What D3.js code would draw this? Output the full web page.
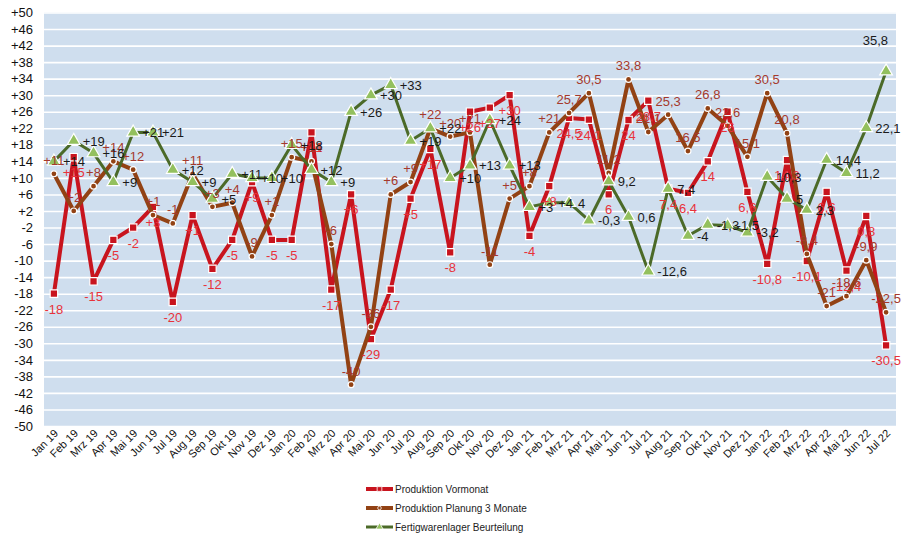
<!DOCTYPE html>
<html>
<head>
<meta charset="utf-8">
<script src="https://cdnjs.cloudflare.com/ajax/libs/d3/7.8.5/d3.min.js"></script>
<style>
    body { margin: 0; background: #ffffff; }
    svg { font-family: "Liberation Sans", Arial, sans-serif; }
</style>
</head>
<body>
<svg id="chart"></svg>
<script>
// months Jan 19 .. Jul 22
var months = ["Jan 19", "Feb 19", "Mrz 19", "Apr 19", "Mai 19", "Jun 19", "Jul 19", "Aug 19", "Sep 19", "Okt 19", "Nov 19", "Dez 19",
    "Jan 20", "Feb 20", "Mrz 20", "Apr 20", "Mai 20", "Jun 20", "Jul 20", "Aug 20", "Sep 20", "Okt 20", "Nov 20", "Dez 20",
    "Jan 21", "Feb 21", "Mrz 21", "Apr 21", "Mai 21", "Jun 21", "Jul 21", "Aug 21", "Sep 21", "Okt 21", "Nov 21", "Dez 21",
    "Jan 22", "Feb 22", "Mrz 22", "Apr 22", "Mai 22", "Jun 22", "Jul 22"];

var vormonat = [-18, 15, -15, -5, -2, 3, -20, 1, -12, -5, 9, -5,
    -5, 21, -17, 6, -29, -17, 5, 17, -8, 26, 27, 30,
    -4, 8, 24.5, 24.1, 6, 24, 28.7, 7.4, 6.4, 14, 26, 6.6,
    -10.8, 14.3, -10.1, 6.6, -12.4, 0.8, -30.5];

var planung = [11, 2, 8, 14, 12, 1, -1, 11, 3, 4, -9, 1,
    15, 14, -6, -40, -26, 6, 9, 22, 20, 21, -11, 5,
    8, 21, 25.7, 30.5, 11.2, 33.8, 21.1, 25.3, 16.5, 26.8, 22.6, 15.1,
    30.5, 20.8, -8.4, -21, -18.6, -9.9, -22.5];

var lager = [14, 19, 16, 9, 21, 21, 12, 9, 5, 11, 10, 10,
    18, 12, 9, 26, 30, 32.5, 19, 22, 10, 13, 24, 13,
    3, 4, 4, -0.3, 9.2, 0.6, -12.6, 7.4, -4, -1.3, -1.5, -3.2,
    10.3, 5, 2.3, 14.4, 11.2, 22.1, 35.8];

var seriesNames = ["Produktion Vormonat", "Produktion Planung 3 Monate", "Fertigwarenlager Beurteilung"];
var yTicks = d3.range(50, -51, -4);

var dimensions = {
    width: 908,
    height: 534,
    margin: { top: 12.5, bottom: 108, right: 12, left: 44 }
};

var svg = d3.select("#chart")
    .attr("width", dimensions.width)
    .attr("height", dimensions.height);

// german number format with plain hyphen
var de = d3.formatLocale({ decimal: ",", thousands: ".", grouping: [3], currency: ["", " €"], minus: "-" });
var fmtInt = de.format("+d");
var fmtDec = de.format(".1~f");
function labelText(v, i) {
    // older months were reported as whole numbers with sign
    return i < 26 ? fmtInt(Math.round(v)) : fmtDec(v);
}

var xScale = d3.scaleBand()
    .domain(months)
    .range([dimensions.margin.left, dimensions.width - dimensions.margin.right]);

var yScale = d3.scaleLinear()
    .domain([-50, 50])
    .range([dimensions.height - dimensions.margin.bottom, dimensions.margin.top]);

var cx = d => xScale(d) + xScale.bandwidth() / 2;

// plot background
svg.append("rect")
    .attr("x", dimensions.margin.left)
    .attr("y", yScale(50))
    .attr("width", xScale.range()[1] - xScale.range()[0])
    .attr("height", yScale(-50) - yScale(50))
    .attr("fill", "#cfdeee");

// grid lines + y labels
var yAxis = d3.axisLeft(yScale)
    .tickValues(yTicks)
    .tickSize(-(xScale.range()[1] - xScale.range()[0]))
    .tickPadding(11)
    .tickFormat(d => d > 0 ? "+" + d : String(d));

var yG = svg.append("g")
    .attr("transform", `translate(${dimensions.margin.left}, 0)`)
    .call(yAxis);
yG.select(".domain").remove();
yG.selectAll(".tick line").attr("stroke", "#ffffff").attr("stroke-width", 1.6);
yG.selectAll(".tick text").attr("font-size", "13px").attr("fill", "#111");

// x labels rotated
svg.append("g")
    .selectAll("text")
    .data(months)
    .enter()
    .append("text")
    .attr("transform", d => `translate(${cx(d) + 5}, ${yScale(-50) + 8}) rotate(-45)`)
    .attr("text-anchor", "end")
    .attr("font-size", "11px")
    .attr("fill", "#111")
    .text(d => d);

var series = [
    { name: seriesNames[0], values: vormonat, line: "#c8141e", width: 4, marker: "square", fill: "#c8141e", label: "#e8323a", dx: 0, dy: 20, anchor: "middle" },
    { name: seriesNames[1], values: planung, line: "#924214", width: 4, marker: "circle", fill: "#924214", label: "#a5392c", dx: 0, dy: -9, anchor: "middle" },
    { name: seriesNames[2], values: lager, line: "#4b6a28", width: 3, marker: "triangle", fill: "#93c05e", label: "#1a1a1a", dx: 9, dy: 5, anchor: "start" }
];

var line = d3.line()
    .x((d, i) => cx(months[i]))
    .y(d => yScale(d));

function markerPath(type) {
    if (type === "square") return d3.symbol(d3.symbolSquare, 56)();
    if (type === "circle") return d3.symbol(d3.symbolCircle, 28)();
    return d3.symbol(d3.symbolTriangle, 70)();
}

// lines and markers
series.forEach(s => {
    svg.append("path")
        .datum(s.values)
        .attr("d", line)
        .attr("fill", "none")
        .attr("stroke", s.line)
        .attr("stroke-width", s.width)
        .attr("stroke-linejoin", "round");

    svg.append("g")
        .selectAll("path")
        .data(s.values)
        .enter()
        .append("path")
        .attr("d", markerPath(s.marker))
        .attr("transform", (d, i) => `translate(${cx(months[i])}, ${yScale(d)})`)
        .attr("fill", s.fill)
        .attr("stroke", "#ffffff")
        .attr("stroke-width", 1.2);
});

// data labels on top
var last = months.length - 1;
series.forEach(s => {
    svg.append("g")
        .selectAll("text")
        .data(s.values)
        .enter()
        .append("text")
        // last green label would run off the edge, put it above the point
        .attr("x", (d, i) => cx(months[i]) + (i === last && s.anchor === "start" ? 2 : s.dx))
        .attr("y", (d, i) => yScale(d) + (i === last && s.anchor === "start" ? -26 : s.dy))
        .attr("text-anchor", (d, i) => i === last && s.anchor === "start" ? "end" : s.anchor)
        .attr("font-size", "13px")
        .attr("fill", s.label)
        .text((d, i) => labelText(d, i));
});

// legend
var legend = svg.append("g")
    .selectAll("g")
    .data(series)
    .enter()
    .append("g")
    .attr("transform", (d, i) => `translate(366, ${489 + i * 19})`);

legend.append("line")
    .attr("x1", 0)
    .attr("x2", 27)
    .attr("stroke", d => d.line)
    .attr("stroke-width", d => d.width);

legend.append("path")
    .attr("d", d => d3.symbol(d.marker === "square" ? d3.symbolSquare : d.marker === "circle" ? d3.symbolCircle : d3.symbolTriangle, d.marker === "circle" ? 10 : 22)())
    .attr("transform", "translate(13.5, 0)")
    .attr("fill", d => d.fill)
    .attr("stroke", "#ffffff")
    .attr("stroke-width", 0.8);

legend.append("text")
    .attr("x", 29)
    .attr("dy", "0.35em")
    .attr("font-size", "10px")
    .attr("fill", "#222")
    .text(d => d.name);
</script>
</body>
</html>
